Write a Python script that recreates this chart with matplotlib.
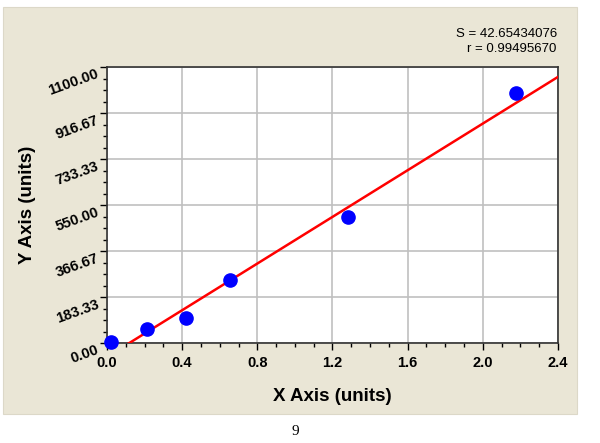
import matplotlib
matplotlib.use('Agg')
import matplotlib.pyplot as plt
import numpy as np
from matplotlib.patches import Rectangle
from matplotlib.ticker import MultipleLocator, FixedLocator

# data
x_vals = [0.021, 0.214, 0.42, 0.654, 1.284, 2.179]
y_vals = [3, 55, 101, 251, 501, 998]
fit_slope = 465.0
fit_intercept = -55.3
x_ticks = [0.0, 0.4, 0.8, 1.2, 1.6, 2.0, 2.4]
y_ticks = [0.0, 183.33, 366.67, 550.0, 733.33, 916.67, 1100.0]
y_tick_labels = ['0.00', '183.33', '366.67', '550.00', '733.33', '916.67', '1100.00']
stats_text = 'S = 42.65434076\nr = 0.99495670'

plt.rcParams['font.family'] = ['Liberation Sans', 'DejaVu Sans']

fig = plt.figure(figsize=(6, 4.43), dpi=100)
fig.patch.set_facecolor('white')

# beige panel behind the chart
panel = Rectangle((0.005, 0.0655), 0.957, 0.918, transform=fig.transFigure,
                  facecolor='#EAE6D6', edgecolor='#DCD8C8', linewidth=0.8, zorder=-10)
fig.patches.append(panel)

ax = fig.add_axes([0.1783, 0.2257, 0.7517, 0.623])
ax.set_facecolor('white')

ax.set_xlim(0, 2.4)
ax.set_ylim(0, 1100)

# fitted line
line_x = np.array([0, 2.4])
line_y = fit_slope * line_x + fit_intercept
ax.plot(line_x, line_y, color='#FF0000', linewidth=1.8, zorder=3, clip_on=True)

# points
ax.plot(x_vals, y_vals, 'o', color='#0000FF', markersize=9.5, zorder=4, clip_on=False)

ax.xaxis.set_major_locator(FixedLocator(x_ticks))
ax.xaxis.set_minor_locator(MultipleLocator(0.1))
ax.yaxis.set_major_locator(FixedLocator(y_ticks))
ax.yaxis.set_minor_locator(MultipleLocator(1100 / 24))
ax.set_xticklabels(['%.1f' % t for t in x_ticks])
ax.set_yticklabels(y_tick_labels, rotation=20, ha='right', va='top',
                   rotation_mode='anchor')

ax.grid(True, which='major', color='#C0C0C0', linewidth=1.2)
ax.set_axisbelow(True)

ax.tick_params(axis='both', which='major', direction='out', length=5, width=1, colors='black',
               labelsize=10.5)
ax.tick_params(axis='both', which='minor', direction='out', length=3, width=1)
ax.tick_params(axis='x', pad=4)
ax.tick_params(axis='y', pad=3)
for lab in ax.get_xticklabels() + ax.get_yticklabels():
    lab.set_fontweight('bold')

for sp in ax.spines.values():
    sp.set_color('#333333')
    sp.set_linewidth(1.2)

ax.set_xlabel('X Axis (units)', fontsize=13.5, fontweight='bold', labelpad=13)
ax.set_ylabel('Y Axis (units)', fontsize=13.5, fontweight='bold', labelpad=8)

fig.text(0.928, 0.907, stats_text, ha='right', va='center', fontsize=9.5,
         linespacing=1.3)

# page number
fig.text(0.492, 0.025, '9', ha='center', va='center', fontsize=11,
         family='Liberation Serif')

fig.savefig('out.png', dpi=100, facecolor=fig.get_facecolor())
